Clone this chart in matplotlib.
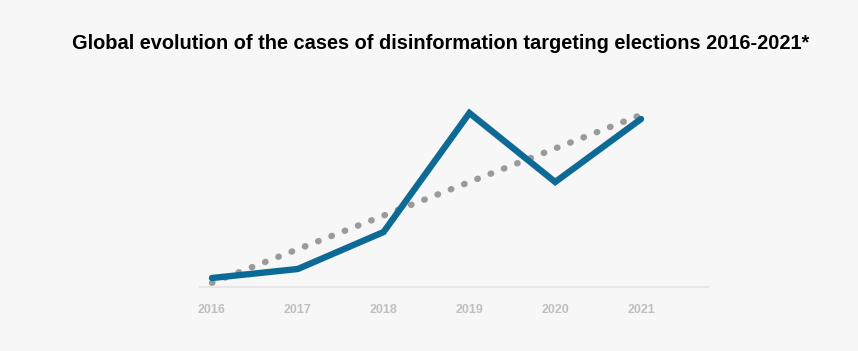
import numpy as np
import matplotlib
matplotlib.use("Agg")
import matplotlib.pyplot as plt

years = [2016, 2017, 2018, 2019, 2020, 2021]
cases = [9, 18, 55, 174, 105, 168]
title = "Global evolution of the cases of disinformation targeting elections 2016-2021*"

bg = "#f7f7f7"
fig = plt.figure(figsize=(8.58, 3.51), dpi=100, facecolor=bg)
ax = fig.add_axes([200/858, 64/351, 508/858, 200/351], facecolor=bg)

x = np.array(years)
coef = np.polyfit(x, cases, 1)
trend = np.polyval(coef, x)

ax.plot(x, trend, color="#9a9a9a", lw=4.6, linestyle=(0, (0.08, 2.15)),
        dash_capstyle="round", zorder=2)
ax.plot(x, cases, color="#0d6a96", lw=4.6, solid_capstyle="round",
        solid_joinstyle="miter", zorder=3)

ax.set_xlim(2016 - 12/85.8, 2021 + 67/85.8)
ax.set_ylim(0, 200)
for s in ["top", "right", "left"]:
    ax.spines[s].set_visible(False)
ax.spines["bottom"].set_color("#e6e6e6")
ax.spines["bottom"].set_linewidth(1.5)
ax.set_yticks([])
ax.set_xticks(years)
ax.set_xticklabels([str(y) for y in years], fontfamily="Liberation Sans",
                   fontweight="bold", fontsize=9, color="#bfbfbf")
ax.tick_params(axis="x", length=0, pad=12)

fig.text(441/858, 1 - 49/351, title, ha="center", va="baseline",
         fontfamily="Liberation Sans", fontweight="bold", fontsize=14.4, color="black")

fig.savefig("out.png", dpi=100, facecolor=bg)
